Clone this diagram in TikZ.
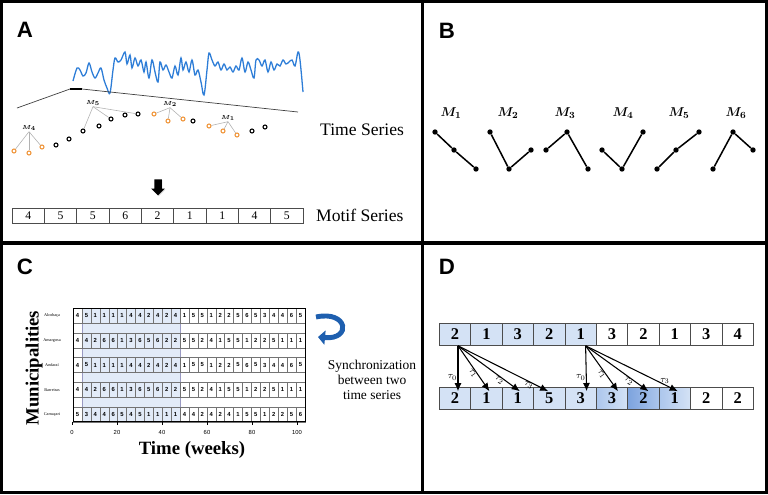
\documentclass[tikz,border=0pt]{standalone}
\usepackage{amsmath}
\usepackage{fontspec}
\setmainfont{Liberation Serif}
\newfontfamily\panelfont{Liberation Sans}
\usetikzlibrary{positioning,calc,arrows.meta,shapes.arrows,shadows}
\definecolor{tsblue}{RGB}{45,125,215}
\definecolor{ringorange}{RGB}{240,150,60}
\definecolor{syncblue}{RGB}{30,95,175}
\definecolor{lagblue}{RGB}{212,226,245}
\definecolor{lagmid}{RGB}{172,198,236}
\definecolor{lagdeep}{RGB}{125,163,222}
\definecolor{lagdark}{RGB}{95,140,210}
\definecolor{weekshade}{RGB}{226,235,248}

\begin{document}
\begin{tikzpicture}[x=0.03cm, y=-0.03cm,
    frame/.style={line width=2.6pt},
    panelname/.style={font=\panelfont\bfseries\fontsize{19}{19}\selectfont},
    sidetext/.style={anchor=west, font=\fontsize{15}{15}\selectfont},
    ring/.style={circle, draw=black, line width=0.9pt, inner sep=0, minimum size=0.12cm},
    orangering/.style={ring, draw=ringorange},
    tinymotif/.style={font=\fontsize{4.5}{4.5}\selectfont, inner sep=0.5pt},
    motifcell/.style={rectangle, draw=black!70, line width=0.5pt, minimum width=0.97cm, minimum height=0.45cm, inner sep=0, font=\fontsize{10}{10}\selectfont},
    motifname/.style={font=\fontsize{11}{11}\selectfont},
    motifdot/.style={circle, fill=black, inner sep=0, minimum size=0.16cm},
    motifline/.style={line width=1.3pt},
    weekcell/.style={rectangle, draw=black!55, line width=0.3pt, minimum width=0.2676cm, minimum height=0.45cm, inner sep=0, font=\panelfont\bfseries\fontsize{5}{5}\selectfont},
    townname/.style={font=\fontsize{3.6}{3.6}\selectfont},
    lagcell/.style={rectangle, draw=black!70, line width=0.5pt, minimum width=0.942cm, minimum height=0.66cm, inner sep=0, font=\bfseries\fontsize{14}{14}\selectfont},
    lagarrow/.style={line width=0.9pt, -{Latex[length=7pt,width=6pt]}},
    taulabel/.style={font=\fontsize{8}{8}\selectfont, inner sep=0.3pt}
]
\useasboundingbox (0,0) rectangle (768,494);

% Frame and dividers
\draw[frame] (1.5,1.5) rectangle (766.5,492.5);
\draw[frame] (422.5,1.5) -- (422.5,492.5);
\draw[frame] (1.5,243) -- (766.5,243);

% Panel names
\node[panelname] (pA) at (25,30) {A};
\node[panelname] (pB) at (447,31) {B};
\node[panelname] (pC) at (25,267) {C};
\node[panelname] (pD) at (447,267) {D};

%%% Panel A
% raw time series
\draw[tsblue, line width=1.1pt] plot[smooth, tension=0.55] coordinates {
  (73,81) (77,68) (80,70) (83,76) (86,73) (89,63) (92,72) (95,78) (98,73)
  (101,68) (104,80) (107,88) (110,93) (113,70) (115,58) (118,62) (121,60)
  (125,52) (127,64) (130,55) (132,68) (135,58) (138,66) (141,60) (144,72)
  (146,62) (149,78) (152,60) (155,72) (158,82) (160,62) (163,70) (166,65)
  (169,72) (172,78) (175,66) (178,75) (181,58) (183,70) (186,62) (189,72)
  (192,60) (195,75) (198,70) (201,82) (204,95) (207,70) (209,53) (212,60)
  (215,66) (218,62) (221,70) (224,64) (227,70) (230,67) (233,72) (236,66)
  (239,70) (242,58) (245,72) (248,62) (251,70) (254,78) (256,60) (259,60)
  (262,66) (265,60) (268,72) (271,62) (274,70) (277,64) (280,66) (283,60)
  (286,64) (289,62) (292,60) (295,66) (298,52) (300,60) (303,92)};

% zoom window
\coordinate (zoomL) at (17,108);
\coordinate (zoomA) at (70,89);
\coordinate (zoomB) at (82,89);
\coordinate (zoomR) at (298,112);
\draw[black!75, line width=0.6pt] (zoomL) -- (zoomA);
\draw[black!75, line width=0.6pt] (zoomB) -- (zoomR);
\draw[line width=2pt] (zoomA) -- (zoomB);

% symbolised points
\foreach \k/\px/\py/\kind in {1/14/151/orangering, 2/29/153/orangering, 3/42/147/orangering,
    4/56/145/ring, 5/69/139/ring, 6/83/131/ring, 7/99/126/ring, 8/111/119/ring,
    9/125/115/ring, 10/138/114/ring, 11/154/114/orangering, 12/168/121/orangering,
    13/183/119/orangering, 14/193/121/ring, 15/209/126/orangering, 16/223/131/orangering,
    17/237/135/orangering, 18/252/131/ring, 19/265/127/ring}
  \node[\kind] (d\k) at (\px,\py) {};

\node[tinymotif] (ma4) at (29,128) {$\boldsymbol{M_4}$};
\node[tinymotif] (ma5) at (93,103) {$\boldsymbol{M_5}$};
\node[tinymotif] (ma2) at (170,104) {$\boldsymbol{M_2}$};
\node[tinymotif] (ma1) at (228,118) {$\boldsymbol{M_1}$};
\foreach \m/\a/\b/\c in {4/1/2/3, 5/6/8/10, 2/11/12/13, 1/15/16/17} {
  \draw[black!30, line width=0.5pt] (ma\m.south) -- (d\a);
  \draw[black!30, line width=0.5pt] (ma\m.south) -- (d\b);
  \draw[black!30, line width=0.5pt] (ma\m.south) -- (d\c);
}

\node[sidetext] (tsname) at (316,130) {Time Series};

% block arrow
\node[single arrow, fill=black, draw=none, rotate=-90, inner sep=3pt, minimum height=0.48cm,
      single arrow head extend=2.6pt,
      drop shadow={opacity=0.35, shadow xshift=0.6pt, shadow yshift=-0.6pt}] (down) at (158,185.5) {};

% motif series
\node[motifcell] (ms1) at (28.2,215.5) {4};
\node[motifcell] (ms2) at (60.5,215.5) {5};
\node[motifcell] (ms3) at (92.8,215.5) {5};
\node[motifcell] (ms4) at (125.2,215.5) {6};
\node[motifcell] (ms5) at (157.5,215.5) {2};
\node[motifcell] (ms6) at (189.8,215.5) {1};
\node[motifcell] (ms7) at (222.2,215.5) {1};
\node[motifcell] (ms8) at (254.5,215.5) {4};
\node[motifcell] (ms9) at (286.8,215.5) {5};
\node[sidetext] (msname) at (312,215) {Motif Series};

%%% Panel B
\foreach \k/\mx/\xa/\ya/\xb/\yb/\xc/\yc in {1/451/435/132/454/150/476/169,
    2/508/490/132/509/169/531/150, 3/565/546/150/567/132/588/169,
    4/623/602/150/622/169/643/132, 5/679/657/169/676/150/699/132,
    6/736/713/169/733/132/753/150} {
  \node[motifname] (mot\k) at (\mx,113) {$\boldsymbol{M_{\k}}$};
  \node[motifdot] (p\k-a) at (\xa,\ya) {};
  \node[motifdot] (p\k-b) at (\xb,\yb) {};
  \node[motifdot] (p\k-c) at (\xc,\yc) {};
  \draw[motifline] (p\k-a) -- (p\k-b) -- (p\k-c);
}

%%% Panel C
\fill[weekshade] (82,308) rectangle (180,421.5);
\draw[blue!40!black!40, line width=0.4pt] (82,308) rectangle (180,421.5);
\foreach \row/\town/\vals in {
    1/Alcobaça/{4,5,1,1,1,1,4,4,2,4,2,4,1,5,5,1,2,2,5,6,5,3,4,4,6,5},
    2/Amargosa/{4,4,2,6,6,1,3,6,5,6,2,2,5,5,2,4,1,5,5,1,2,2,5,1,1,1},
    3/Andaraí/{4,5,1,1,1,1,4,4,2,4,2,4,1,5,5,1,2,2,5,6,5,3,4,4,6,5},
    4/Barreiras/{4,4,2,6,6,1,3,6,5,6,2,2,5,5,2,4,1,5,5,1,2,2,5,1,1,1},
    5/Camaçari/{5,3,4,4,6,5,4,5,1,1,1,1,4,4,2,4,2,4,1,5,5,1,2,2,5,6}} {
  \node[townname] (town\row) at (52,{315.5+24.75*(\row-1)}) {\town};
  \foreach \v [count=\k] in \vals
    \node[weekcell] (w\row-\k) at ({73+8.92*(\k-0.5)},{315.5+24.75*(\row-1)}) {\v};
}
\draw[line width=0.7pt] (73,308) rectangle (305,421.5);
\foreach \w in {0,20,...,100} {
  \draw[line width=0.4pt] ({72+2.25*\w},421.5) -- ({72+2.25*\w},424.5);
  \node[font=\panelfont\fontsize{5}{5}\selectfont] (tick\w) at ({72+2.25*\w},432) {\w};
}
\node[rotate=90, font=\bfseries\fontsize{16}{16}\selectfont] (towns) at (34,368) {Municipalities};
\node[font=\bfseries\fontsize{16}{16}\selectfont] (weeks) at (192,450) {Time (weeks)};

% synchronisation arrow
\coordinate (syncA) at (316,317);
\coordinate (syncB) at (318,337);
\draw[syncblue, line width=4.2pt, -{Triangle[length=6pt,width=12pt]}]
  (syncA) .. controls (348,310) and (352,340) .. (syncB);
\node[align=center, font=\fontsize{11.5}{12.8}\selectfont] (syncname) at (372,380)
  {Synchronization\\between two\\time series};

%%% Panel D
\node[lagcell, fill=lagblue] (t1) at (455,334.5) {2};
\node[lagcell, fill=lagblue] (t2) at (486.4,334.5) {1};
\node[lagcell, fill=lagblue] (t3) at (517.8,334.5) {3};
\node[lagcell, fill=lagblue] (t4) at (549.2,334.5) {2};
\node[lagcell, fill=lagblue] (t5) at (580.6,334.5) {1};
\node[lagcell] (t6) at (612,334.5) {3};
\node[lagcell] (t7) at (643.4,334.5) {2};
\node[lagcell] (t8) at (674.8,334.5) {1};
\node[lagcell] (t9) at (706.2,334.5) {3};
\node[lagcell] (t10) at (737.6,334.5) {4};

\node[lagcell, fill=lagblue] (b1) at (455,398.5) {2};
\node[lagcell, fill=lagblue] (b2) at (486.4,398.5) {1};
\node[lagcell, fill=lagblue] (b3) at (517.8,398.5) {1};
\node[lagcell, fill=lagblue] (b4) at (549.2,398.5) {5};
\node[lagcell, fill=lagblue] (b5) at (580.6,398.5) {3};
\node[lagcell, left color=lagmid, right color=lagblue] (b6) at (612,398.5) {3};
\node[lagcell, left color=lagdeep, right color=lagmid] (b7) at (643.4,398.5) {2};
\node[lagcell, left color=lagmid, middle color=lagdark, right color=lagblue] (b8) at (674.8,398.5) {1};
\node[lagcell] (b9) at (706.2,398.5) {2};
\node[lagcell] (b10) at (737.6,398.5) {2};

% Lag arrows
\draw[lagarrow] ($(t1.south)+(3,0)$) -- node[pos=0.7, left, taulabel] {$\tau_0$} ($(b1.north)+(3,4)$);
\draw[lagarrow] ($(t1.south)+(3,0)$) -- node[pos=0.56, sloped, below, taulabel] {$\tau_1$} ($(b2.north)+(3,4)$);
\draw[lagarrow] ($(t1.south)+(3,0)$) -- node[pos=0.7, sloped, below, taulabel] {$\tau_2$} ($(b3.north)+(2,4)$);
\draw[lagarrow] ($(t1.south)+(3,0)$) -- node[pos=0.8, sloped, below, taulabel] {$\tau_3$} ($(b4.north)+(-1,4)$);

\draw[lagarrow] ($(t5.south)+(5,0)$) -- node[pos=0.7, left, taulabel] {$\tau_0$} ($(b5.north)+(6,4)$);
\draw[lagarrow] ($(t5.south)+(5,0)$) -- node[pos=0.58, sloped, below, taulabel] {$\tau_1$} ($(b6.north)+(6,4)$);
\draw[lagarrow] ($(t5.south)+(5,0)$) -- node[pos=0.72, sloped, below, taulabel] {$\tau_2$} ($(b7.north)+(5,4)$);
\draw[lagarrow] ($(t5.south)+(5,0)$) -- node[pos=0.86, above, taulabel] {$\tau_3$} ($(b8.north)+(3,4)$);

\end{tikzpicture}
\end{document}
